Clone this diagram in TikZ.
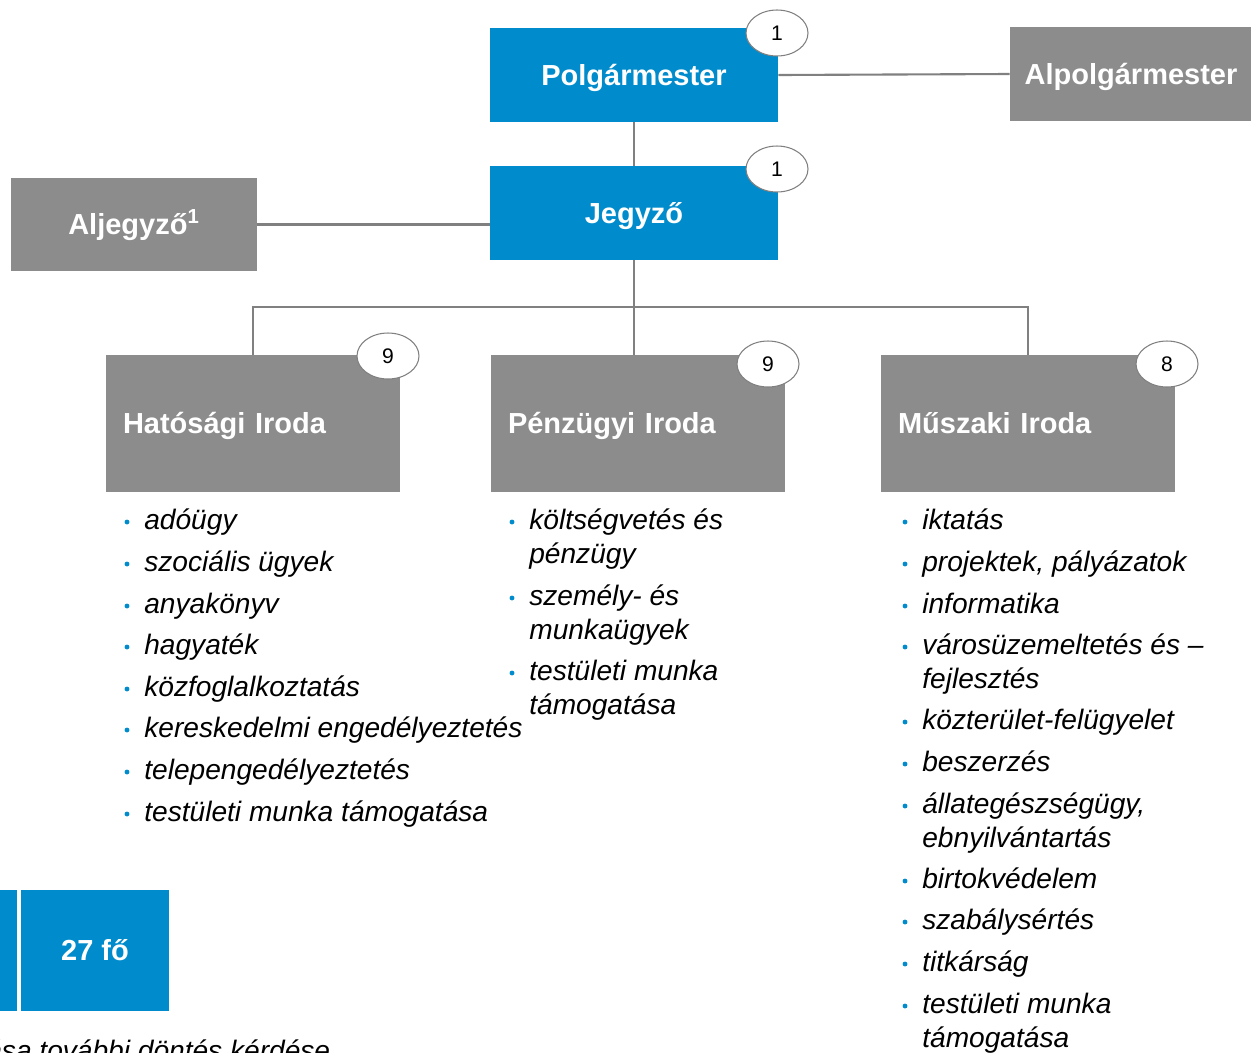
\documentclass[tikz,border=0pt]{standalone}
\usepackage{fontspec}
\setmainfont{Liberation Sans}
\usetikzlibrary{positioning,shapes.geometric,calc}
\definecolor{boxblue}{RGB}{0,140,204}
\definecolor{boxgray}{RGB}{140,140,140}
\definecolor{linegray}{RGB}{128,128,128}
\newcommand{\itemstrut}{\rule{0pt}{16pt}}

\begin{document}
\begin{tikzpicture}[x=0.02cm,y=-0.02cm,
  title/.style={text=white,font=\fontsize{16.5}{19}\selectfont\bfseries,inner sep=0pt,text height=13.5pt,text depth=2pt},
  bluebox/.style={rectangle,fill=boxblue,title,minimum width=5.76cm,minimum height=1.88cm},
  graybox/.style={rectangle,fill=boxgray,title},
  office/.style={graybox,minimum width=5.88cm,minimum height=2.74cm,text width=5.2cm,align=left,inner xsep=0.34cm},
  badge/.style={ellipse,draw=linegray,fill=white,line width=0.6pt,minimum width=1.24cm,minimum height=0.92cm,inner sep=0pt,font=\fontsize{12}{14}\selectfont},
  conn/.style={draw=linegray,line width=1.2pt},
  item/.style={anchor=north west,align=left,inner sep=0pt,font=\fontsize{16}{19.3}\selectfont\itshape},
  dot/.style={fill=boxblue}]
\useasboundingbox (0,0) rectangle (1251,1052);
\clip (0,0) rectangle (1251,1052);

% Leadership
\node[bluebox] (polg) at (634,75) {Polgármester};
\node[graybox,minimum width=4.84cm,minimum height=1.88cm] (alpolg) at (1131,74) {Alpolgármester};
\node[bluebox] (jegyzo) at (634,213) {Jegyző};
\node[graybox,minimum width=4.92cm,minimum height=1.86cm] (aljegyzo) at (134,224.5) {Aljegyző\textsuperscript{1}};

% Offices
\node[office] (hat) at (253,423.5) {Hatósági Iroda};
\node[office] (penz) at (638,423.5) {Pénzügyi Iroda};
\node[office] (mus) at (1028,423.5) {Műszaki Iroda};

% Connectors
\draw[conn] (polg.east) -- (alpolg.west);
\draw[conn] (polg) -- (jegyzo);
\draw[conn] (aljegyzo.east) -- (aljegyzo.east -| jegyzo.west);
\coordinate (bus) at (634,307);
\draw[conn] (jegyzo.south) -- (bus);
\draw[conn] (hat.north) |- (bus) -| (mus.north);
\draw[conn] (bus) -- (bus |- penz.north);

% Headcount badges
\node[badge] (bpolg) at (777,33) {1};
\node[badge] (bjegyzo) at (777,169) {1};
\node[badge] (bhat) at (388,356) {9};
\node[badge] (bpenz) at (768,364) {9};
\node[badge] (bmus) at (1167,364) {8};

% Tasks (\b = baseline of first line)
\foreach \b/\t [count=\i] in {529/adóügy, 571/szociális ügyek, 613/anyakönyv, 654/hagyaték,
    696/közfoglalkoztatás, 737/kereskedelmi engedélyeztetés, 779/telepengedélyeztetés,
    821/testületi munka támogatása} {
  \fill[dot] (127,\b-7) circle (1.4pt);
  \node[item] (hat\i) at (144,\b-28.2) {\itemstrut\t};
}
\foreach \b/\t [count=\i] in {529/{költségvetés és\\pénzügy},
    605/{személy- és\\munkaügyek}, 680/{testületi munka\\támogatása}} {
  \fill[dot] (512,\b-7) circle (1.4pt);
  \node[item] (penz\i) at (529,\b-28.2) {\itemstrut\t};
}
\foreach \b/\t [count=\i] in {529/iktatás, 571/{projektek, pályázatok},
    613/informatika, 654/{városüzemeltetés és –\\fejlesztés},
    729/közterület-felügyelet, 771/beszerzés,
    813/{állategészségügy,\\ebnyilvántartás}, 888/birtokvédelem,
    929/szabálysértés, 971/titkárság, 1013/{testületi munka\\támogatása}} {
  \fill[dot] (905,\b-7) circle (1.4pt);
  \node[item] (mus\i) at (922,\b-28.2) {\itemstrut\t};
}

% Total
\fill[boxblue] (0,890) rectangle (17,1011);
\node[bluebox,minimum width=2.96cm,minimum height=2.42cm] (total) at (95,950.5) {27 fő};
\node[anchor=base west,inner sep=0pt,font=\fontsize{16}{19}\selectfont\itshape] (note) at (-14,1060) {ása további döntés kérdése};
\end{tikzpicture}
\end{document}
